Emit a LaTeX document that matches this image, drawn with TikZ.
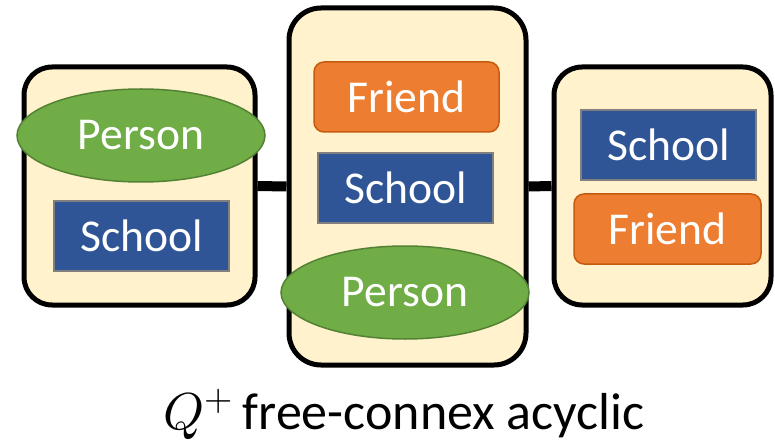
\documentclass[tikz,border=0pt]{standalone}
\usepackage{fontspec}
\usepackage{unicode-math}
\setmainfont{Carlito}
\setmathfont{Latin Modern Math}
\usetikzlibrary{shapes.geometric}
\definecolor{cream}{HTML}{FFF2CC}
\definecolor{pgreen}{HTML}{70AD47}
\definecolor{pgreenb}{HTML}{548235}
\definecolor{sblue}{HTML}{2F5597}
\definecolor{sblueb}{HTML}{808080}
\definecolor{forange}{HTML}{ED7D31}
\definecolor{foranged}{HTML}{C55A11}
\tikzset{
  bag/.style={draw=black, line width=5pt, fill=cream, rounded corners=28pt, inner sep=0pt},
  person/.style={ellipse, draw=pgreenb, line width=1.5pt, fill=pgreen, text=white, inner sep=0pt,
     minimum width=248pt, minimum height=93pt, font=\fontsize{45.6}{50}\selectfont},
  school/.style={rectangle, draw=sblueb, line width=2pt, fill=sblue, text=white, inner sep=0pt,
     minimum width=175pt, minimum height=70pt, font=\fontsize{45.6}{50}\selectfont},
  friend/.style={rectangle, rounded corners=10pt, draw=foranged, line width=1.5pt, fill=forange, text=white, inner sep=0pt,
     minimum width=185pt, minimum height=70pt, font=\fontsize{45.6}{50}\selectfont},
  link/.style={line width=10pt, black}
}
\begin{document}
\begin{tikzpicture}[x=1pt,y=-1pt]
\useasboundingbox (0,0) rectangle (775,446);
\node[bag, minimum width=231pt, minimum height=238pt] (L) at (139.5,186) {};
\node[bag, minimum width=237pt, minimum height=357pt, rounded corners=32pt] (M) at (407.5,186.5) {};
\node[bag, minimum width=217pt, minimum height=238pt] (R) at (662.5,186) {};
\draw[link] (L.east) -- (M.west);
\draw[link] (M.east) -- (R.west);
% left bag
\node[person] (LP) at (141,135.5) {Person};
\node[school] (LS) at (141.5,236) {School};
% middle bag
\node[friend] (MF) at (406.5,97) {Friend};
\node[school] (MS) at (405.5,188) {School};
\node[person] (MP) at (405,292.5) {Person};
% right bag
\node[school] (RS) at (668.5,145) {School};
\node[friend, minimum width=187pt] (RF) at (667.5,229) {Friend};
% caption
\node[anchor=base, inner sep=0pt, font=\fontsize{52}{60}\selectfont] (cap) at (404,429) {$Q^{+}$\hspace{-0.05em} free-connex acyclic};
\end{tikzpicture}
\end{document}
